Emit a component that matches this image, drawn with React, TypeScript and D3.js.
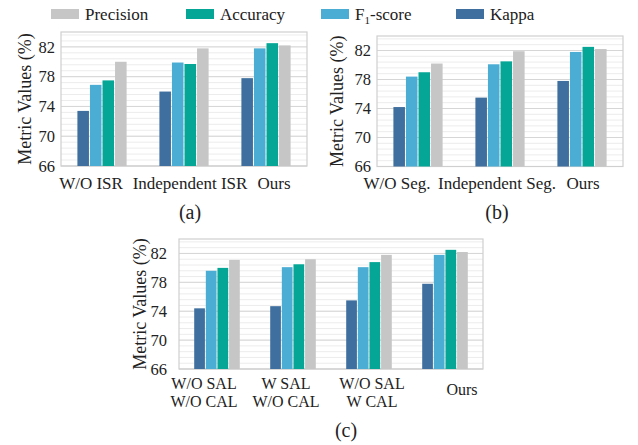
import React from "react";
import * as d3 from "d3";

// metric series, in bar order inside each group
const metrics = ["Kappa", "F1", "Accuracy", "Precision"];
const legendOrder = ["Precision", "Accuracy", "F1", "Kappa"];
const colors: Record<string, string> = {
  Kappa: "#3f6f9e",
  F1: "#4badd4",
  Accuracy: "#05a696",
  Precision: "#c6c6c6",
};

const yTicks = [66, 70, 74, 78, 82];

// (a) ISR ablation
const catsA = [["W/O ISR"], ["Independent ISR"], ["Ours"]];
const kappaA = [73.4, 76.0, 77.8];
const f1A = [76.9, 79.9, 81.8];
const accA = [77.5, 79.7, 82.5];
const precA = [80.0, 81.8, 82.2];

// (b) segmentation ablation
const catsB = [["W/O Seg."], ["Independent Seg."], ["Ours"]];
const kappaB = [74.2, 75.5, 77.8];
const f1B = [78.4, 80.1, 81.8];
const accB = [79.0, 80.5, 82.5];
const precB = [80.2, 81.9, 82.2];

// (c) SAL / CAL ablation
const catsC = [["W/O SAL", "W/O CAL"], ["W SAL", "W/O CAL"], ["W/O SAL", "W CAL"], ["Ours"]];
const kappaC = [74.4, 74.7, 75.5, 77.8];
const f1C = [79.6, 80.1, 80.1, 81.8];
const accC = [80.0, 80.5, 80.8, 82.5];
const precC = [81.1, 81.2, 81.8, 82.2];

const FONT = "'Liberation Serif', 'Times New Roman', serif";

type PanelProps = {
  cats: string[][];
  series: Record<string, number[]>;
  x0: number;
  x1: number;
  y0: number;
  y1: number;
  labelX: number;
  tickGap: number;
  catNudge: number[];
  catBaseline: number;
  caption: string;
  captionX: number;
  captionY: number;
};

const Panel = (p: PanelProps) => {
  const names = p.cats.map((c) => c.join(" "));
  const x = d3.scaleBand().domain(names).range([p.x0, p.x1]).padding(0);
  const inner = d3
    .scaleBand()
    .domain(metrics)
    .range([0, x.bandwidth() * 0.6])
    .paddingInner(0.08);
  const y = d3.scaleLinear().domain([66, 84]).range([p.y1, p.y0]);
  const minor = d3.range(66, 84.01, 0.8);
  const offset = (x.bandwidth() - x.bandwidth() * 0.6) / 2;
  const multi = p.cats.some((c) => c.length > 1);

  return (
    <g>
      {minor.map((v, i) => (
        <line key={"m" + i} x1={p.x0} x2={p.x1} y1={y(v)} y2={y(v)} stroke="#ececec" strokeWidth={1} />
      ))}
      {yTicks.map((t) => (
        <line key={"g" + t} x1={p.x0} x2={p.x1} y1={y(t)} y2={y(t)} stroke="#d6d6d6" strokeWidth={1} />
      ))}
      <rect x={p.x0} y={p.y0} width={p.x1 - p.x0} height={p.y1 - p.y0} fill="none" stroke="#cfcfcf" strokeWidth={1.2} />
      {names.map((n, gi) =>
        metrics.map((m) => {
          const v = p.series[m][gi];
          return (
            <rect
              key={n + m}
              x={(x(n) as number) + offset + (inner(m) as number)}
              y={y(v)}
              width={inner.bandwidth()}
              height={y(66) - y(v)}
              fill={colors[m]}
            />
          );
        })
      )}
      {yTicks.map((t) => (
        <text key={"t" + t} x={p.x0 - p.tickGap} y={y(t)} dy="0.35em" textAnchor="end" fontSize={16.5} fontFamily={FONT} fill="#222">
          {t}
        </text>
      ))}
      <text
        transform={`translate(${p.labelX},${(p.y0 + p.y1) / 2}) rotate(-90)`}
        dy="0.35em"
        textAnchor="middle"
        fontSize={18}
        fontFamily={FONT}
        fill="#222"
      >
        Metric Values (%)
      </text>
      {p.cats.map((lines, gi) => {
        const cx = (x(names[gi]) as number) + x.bandwidth() / 2 + p.catNudge[gi];
        const base = lines.length === 1 && multi ? p.catBaseline + 6 : p.catBaseline;
        return lines.map((l, li) => (
          <text
            key={"c" + gi + "-" + li}
            x={cx}
            y={base + li * 17.9}
            textAnchor="middle"
            fontSize={multi ? 16 : 17}
            fontFamily={FONT}
            fill="#222"
          >
            {l}
          </text>
        ));
      })}
      <text x={p.captionX} y={p.captionY} textAnchor="middle" fontSize={20} fontFamily={FONT} fill="#222">
        {p.caption}
      </text>
    </g>
  );
};

const Legend = () => {
  const xs = d3.scalePoint().domain(legendOrder).range([51, 456]);
  return (
    <g>
      {legendOrder.map((m) => {
        const lx = xs(m) as number;
        return (
          <g key={m}>
            <rect x={lx} y={9} width={28} height={10} fill={colors[m]} />
            <text x={lx + 34} y={19.5} fontSize={17} fontFamily={FONT} fill="#222">
              {m === "F1" ? (
                <>
                  F<tspan fontSize={11} dy={4}>1</tspan>
                  <tspan dy={-4}>-score</tspan>
                </>
              ) : (
                m
              )}
            </text>
          </g>
        );
      })}
    </g>
  );
};

export default function App() {
  return (
    <svg width={638} height={445} style={{ position: "absolute", left: 0, top: 0, background: "#fff" }}>
      <Legend />
      <Panel
        cats={catsA}
        series={{ Kappa: kappaA, F1: f1A, Accuracy: accA, Precision: precA }}
        x0={61}
        x1={307}
        y0={32}
        y1={166}
        labelX={25}
        tickGap={6}
        catNudge={[-11, 6, 8]}
        catBaseline={189}
        caption="(a)"
        captionX={190}
        captionY={219}
      />
      <Panel
        cats={catsB}
        series={{ Kappa: kappaB, F1: f1B, Accuracy: accB, Precision: precB }}
        x0={377}
        x1={623}
        y0={36}
        y1={166.5}
        labelX={337}
        tickGap={6}
        catNudge={[-21, -3, 1]}
        catBaseline={189}
        caption="(b)"
        captionX={497}
        captionY={219}
      />
      <Panel
        cats={catsC}
        series={{ Kappa: kappaC, F1: f1C, Accuracy: accC, Precision: precC }}
        x0={179}
        x1={483}
        y0={239}
        y1={369}
        labelX={140}
        tickGap={12}
        catNudge={[-13, -7, 3, 17]}
        catBaseline={389}
        caption="(c)"
        captionX={346}
        captionY={437}
      />
    </svg>
  );
}
